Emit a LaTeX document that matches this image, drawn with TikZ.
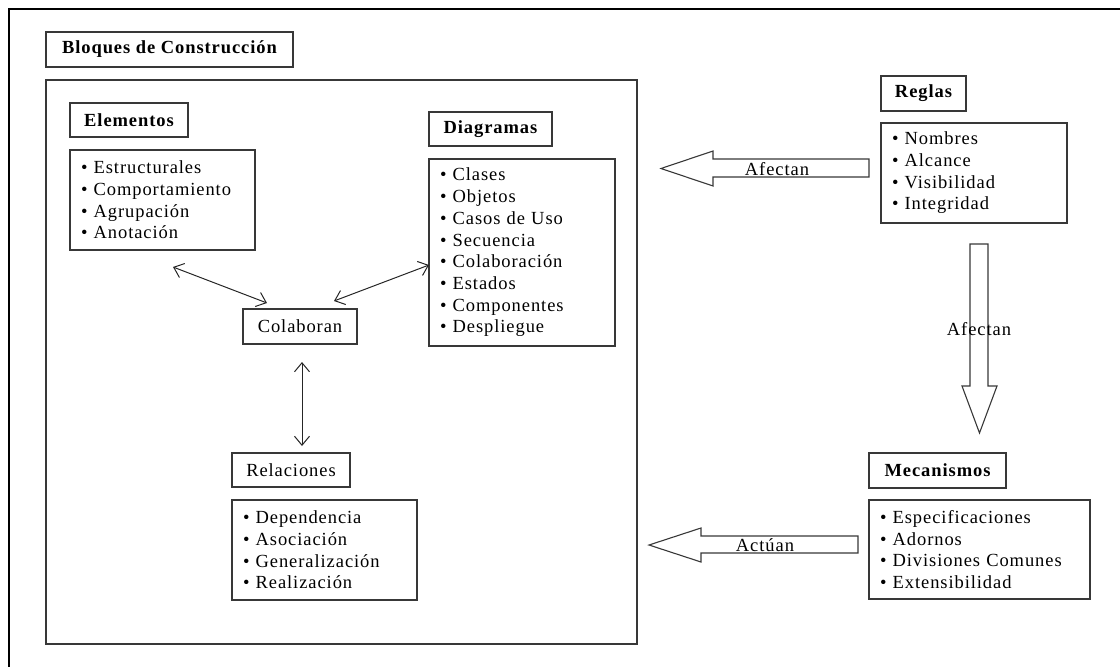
\documentclass[tikz,border=0pt]{standalone}
\usepackage{fontspec}
\setmainfont{Liberation Serif}[LetterSpace=5]
\usetikzlibrary{arrows.meta}

\newcommand{\diagfont}{\fontsize{18.5}{21.7}\selectfont}

\tikzset{
  boxline/.style={draw=black!78, line width=1.1pt},
  headbox/.style={boxline, font=\diagfont\bfseries, inner sep=0pt},
  plainbox/.style={boxline, font=\diagfont, inner sep=0pt},
  listbox/.style={boxline, font=\diagfont, align=left,
                  inner xsep=11pt, inner ysep=0pt},
  blockarrow/.style={draw=black!78, line width=1.1pt, fill=white, line join=miter},
  arrowlabel/.style={font=\diagfont, inner sep=0pt, anchor=base},
  link/.style={draw=black!85, line width=1pt, {Straight Barb[length=9pt,width=15pt]}-{Straight Barb[length=9pt,width=15pt]}},
  frame/.style={draw=black, line width=2.2pt}
}

\begin{document}
\begin{tikzpicture}[x=1pt, y=-1pt]
\useasboundingbox (0,0) rectangle (1120,667);

% page frame (top and left edges)
\draw[frame] (9,667) -- (9,9) -- (1120,9);

% building blocks
\node[headbox, minimum width=247pt, minimum height=35pt] (bloques) at (169.5,49.5) {Bloques de Construcción};
\node[boxline, minimum width=591pt, minimum height=564pt] (area) at (341.5,362) {};

\node[headbox, minimum width=118pt, minimum height=34pt] (elem) at (129,120) {Elementos};
\node[listbox, text width=163pt, minimum height=100pt] (elist) at (162.5,200)
  {• Estructurales\\• Comportamiento\\• Agrupación\\• Anotación};

\node[headbox, minimum width=123pt, minimum height=34pt] (diag) at (490.5,129) {Diagramas};
\node[listbox, text width=164pt, minimum height=187pt] (dlist) at (522,252.5)
  {• Clases\\• Objetos\\• Casos de Uso\\• Secuencia\\• Colaboración\\• Estados\\• Componentes\\• Despliegue};

\node[plainbox, minimum width=114pt, minimum height=35pt] (colab) at (300,326.5) {Colaboran};

\node[plainbox, minimum width=118pt, minimum height=34pt] (rel) at (291,470) {Relaciones};
\node[listbox, text width=163pt, minimum height=100pt] (rlist) at (324.5,550)
  {• Dependencia\\• Asociación\\• Generalización\\• Realización};

% rules
\node[headbox, minimum width=85pt, minimum height=35pt] (reglas) at (923.5,93.5) {Reglas};
\node[listbox, text width=164pt, minimum height=100pt] (reglist) at (974,173)
  {• Nombres\\• Alcance\\• Visibilidad\\• Integridad};

% mechanisms
\node[headbox, minimum width=137pt, minimum height=35pt] (mec) at (937.5,470.5) {Mecanismos};
\node[listbox, text width=199pt, minimum height=99pt] (mlist) at (979.5,549.5)
  {• Especificaciones\\• Adornos\\• Divisiones Comunes\\• Extensibilidad};

% collaboration links
\coordinate (e1) at (173,267);
\coordinate (c1) at (267,303);
\coordinate (c2) at (334,301);
\coordinate (d1) at (429,265);
\coordinate (c3) at (302,362);
\coordinate (r1) at (302,446);
\draw[link] (e1) -- (c1);
\draw[link] (c2) -- (d1);
\draw[link] (c3) -- (r1);

% block arrows
\draw[blockarrow] (869,159) -- (713,159) -- (713,151) -- (661,168.5) -- (713,186) -- (713,177) -- (869,177) -- cycle;
\node[arrowlabel] (afecta1) at (777,175) {Afectan};

\draw[blockarrow] (970,244) -- (988,244) -- (988,386) -- (997,386) -- (979.5,433) -- (962,386) -- (970,386) -- cycle;
\node[arrowlabel] (afecta2) at (979,335) {Afectan};

\draw[blockarrow] (858,536) -- (701,536) -- (701,528) -- (649,545) -- (701,562) -- (701,553) -- (858,553) -- cycle;
\node[arrowlabel] (actuan) at (765,551) {Actúan};
\end{tikzpicture}
\end{document}
